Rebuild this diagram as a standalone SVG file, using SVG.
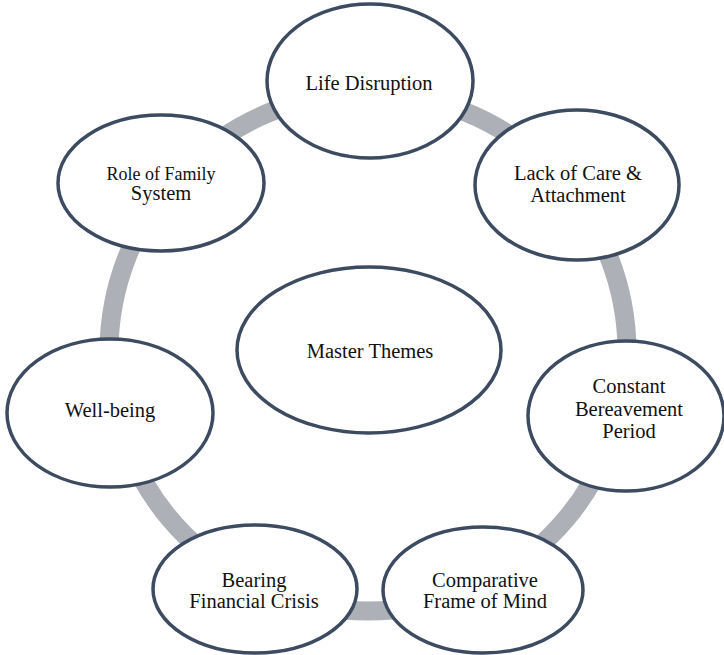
<svg xmlns="http://www.w3.org/2000/svg" width="724" height="655" viewBox="0 0 724 655">
<style>
.n{fill:#fff;stroke:#3c4b5f;stroke-width:3.5}
text{font-family:'Liberation Serif','DejaVu Serif',serif;font-size:20.5px;fill:#111;text-anchor:middle}
text.s{font-size:18px}
</style>
<rect width="724" height="655" fill="#fff"/>
<g id="connectors">
<circle cx="368" cy="352" r="259" fill="none" stroke="#adb0b7" stroke-width="19"/>
</g>
<g id="life-disruption">
<ellipse class="n" cx="370" cy="81" rx="103" ry="77"/>
<text x="369" y="90" font-family="Liberation Serif">Life Disruption</text>
</g>
<g id="lack-of-care">
<ellipse class="n" cx="577" cy="185" rx="102" ry="75"/>
<text x="578" y="180" font-family="Liberation Serif">Lack of Care &amp;</text>
<text x="578" y="202" font-family="Liberation Serif">Attachment</text>
</g>
<g id="role-of-family">
<ellipse class="n" cx="161" cy="183" rx="103" ry="68"/>
<text class="s" x="161" y="180" font-family="Liberation Serif">Role of Family</text>
<text x="161" y="200" font-family="Liberation Serif">System</text>
</g>
<g id="master-themes">
<ellipse class="n" cx="369" cy="350" rx="132" ry="83"/>
<text x="370" y="358" font-family="Liberation Serif">Master Themes</text>
</g>
<g id="constant-bereavement">
<ellipse class="n" cx="626" cy="416" rx="98" ry="75"/>
<text x="629" y="393" font-family="Liberation Serif">Constant</text>
<text x="629" y="416" font-family="Liberation Serif">Bereavement</text>
<text x="629" y="438" font-family="Liberation Serif">Period</text>
</g>
<g id="well-being">
<ellipse class="n" cx="110" cy="413" rx="103" ry="74"/>
<text x="110" y="417" font-family="Liberation Serif">Well-being</text>
</g>
<g id="bearing-financial-crisis">
<ellipse class="n" cx="255" cy="589" rx="102" ry="64"/>
<text x="254" y="587" font-family="Liberation Serif">Bearing</text>
<text x="254" y="608" font-family="Liberation Serif">Financial Crisis</text>
</g>
<g id="comparative-frame">
<ellipse class="n" cx="483" cy="590" rx="100" ry="63"/>
<text x="485" y="587" font-family="Liberation Serif">Comparative</text>
<text x="485" y="608" font-family="Liberation Serif">Frame of Mind</text>
</g>
</svg>
